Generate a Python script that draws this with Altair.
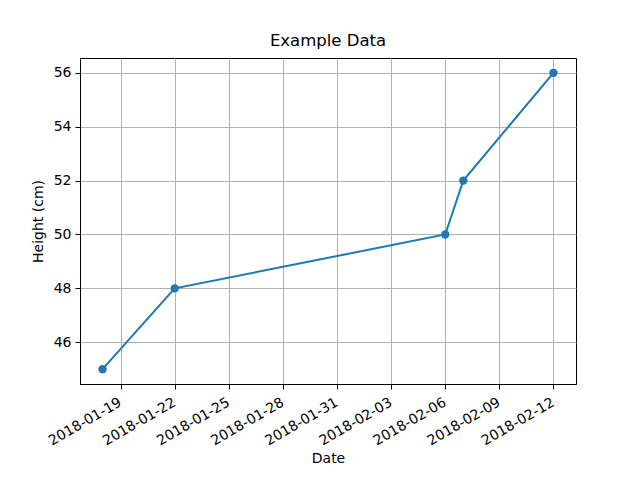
import altair as alt
import pandas as pd

dates = ["2018-01-18", "2018-01-22", "2018-02-06", "2018-02-07", "2018-02-12"]
heights = [45, 48, 50, 52, 56]
tick_dates = ["2018-01-19", "2018-01-22", "2018-01-25", "2018-01-28", "2018-01-31",
              "2018-02-03", "2018-02-06", "2018-02-09", "2018-02-12"]
y_ticks = [46, 48, 50, 52, 54, 56]

df = pd.DataFrame({"date": dates, "height": heights})

def dt(s, h=0):
    y, m, d = (int(v) for v in s.split("-"))
    return alt.DateTime(year=y, month=m, date=d, hours=h, utc=True)

FONT = "DejaVu Sans"
BLUE = "#1f77b4"

x = alt.X(
    "date:T",
    title="Date",
    scale=alt.Scale(type="utc", domain=[dt("2018-01-16", 18), dt("2018-02-13", 6)], nice=False),
    axis=alt.Axis(
        values=[dt(s) for s in tick_dates],
        labelExpr="utcFormat(datum.value, '%Y-%m-%d')",
        labelAngle=330, labelAlign="right", labelBaseline="top",
        labelPadding=6, labelOffset=-4, tickSize=5, tickColor="black", domainColor="black",
        labelFont=FONT, labelFontSize=14, labelColor="black",
        titleFont=FONT, titleFontSize=14, titleFontWeight="normal", titleColor="black",
        titlePadding=4,
        grid=True, gridColor="#b0b0b0", gridWidth=1,
        labelOverlap=False, labelFlush=False, labelBound=False,
    ),
)
y = alt.Y(
    "height:Q",
    title="Height (cm)",
    scale=alt.Scale(domain=[44.45, 56.55], nice=False, zero=False),
    axis=alt.Axis(
        values=y_ticks, format="d",
        tickSize=5, tickColor="black", domainColor="black",
        labelFont=FONT, labelFontSize=14, labelColor="black", labelPadding=4,
        titleFont=FONT, titleFontSize=14, titleFontWeight="normal", titleColor="black",
        titlePadding=8,
        grid=True, gridColor="#b0b0b0", gridWidth=1,
    ),
)

base = alt.Chart(df).encode(x=x, y=y)
line = base.mark_line(color=BLUE, strokeWidth=2)
pts = base.mark_circle(color=BLUE, size=70, opacity=1)

chart = (line + pts).properties(
    width=496, height=326,
    title=alt.TitleParams("Example Data", font=FONT, fontSize=16.5, fontWeight="normal",
                          color="black", offset=9, anchor="middle"),
    autosize=alt.AutoSizeParams(type="none"),
    padding={"left": 72, "top": 50, "right": 56, "bottom": 88},
    background="white",
).configure_view(stroke="black", strokeWidth=1)

chart.save("out.html", embed_options={"renderer": "svg", "actions": False})
